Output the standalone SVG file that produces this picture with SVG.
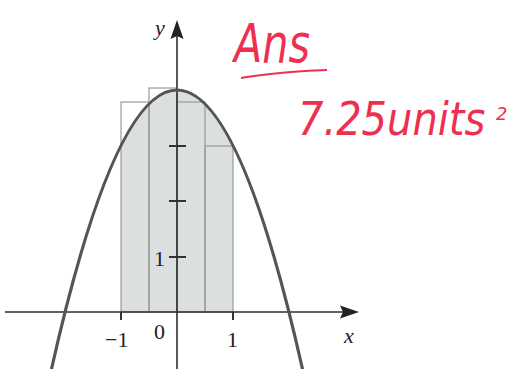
<svg xmlns="http://www.w3.org/2000/svg" width="514" height="369" viewBox="0 0 514 369">
<style>
.axis{stroke:#2e2e2e;stroke-width:1.6;fill:none}
.tick{stroke:#333;stroke-width:2;fill:none}
.rect{stroke:#9a9a9a;stroke-width:1.2;fill:none}
.lbl{font-family:"Liberation Serif",serif;font-size:22px;fill:#222}
.var{font-family:"Liberation Serif",serif;font-style:italic;font-size:22px;fill:#222}
.hand{font-family:"DejaVu Sans","Liberation Sans",sans-serif;fill:#ef2f4f;font-style:italic}
</style>
<rect width="514" height="369" fill="#fff"/>
<g id="shading">
<path d="M121,312 L121,145.5 Q177,34.5 233,145.5 L233,312 Z" fill="#dcdfe0"/>
</g>
<g id="rectangles">
<rect class="rect" x="121" y="102" width="28" height="210"/>
<rect class="rect" x="149" y="88" width="28" height="224"/>
<rect class="rect" x="177" y="102" width="28" height="210"/>
<rect class="rect" x="205" y="146" width="28" height="166"/>
</g>
<g id="connectors">
<line class="axis" x1="5" y1="312" x2="346" y2="312"/>
<polygon points="359,312 340,305.5 343,312 340,318.5" fill="#222"/>
<line class="axis" x1="177" y1="369" x2="177" y2="34"/>
<polygon points="177,20 170.5,39 177,36 183.5,39" fill="#222"/>
<line class="tick" x1="121" y1="312" x2="121" y2="320"/>
<line class="tick" x1="233" y1="312" x2="233" y2="320"/>
<line class="tick" x1="169" y1="146" x2="186" y2="146"/>
<line class="tick" x1="169" y1="201" x2="186" y2="201"/>
<line class="tick" x1="169" y1="257" x2="186" y2="257"/>
</g>
<g id="curve">
<path d="M51.5,369 Q177,-189 302.5,369" fill="none" stroke="#555" stroke-width="3.2"/>
</g>
<g id="labels">
<text class="var" x="155" y="35">y</text>
<text class="var" x="344" y="343">x</text>
<text class="lbl" x="105" y="347">−1</text>
<text class="lbl" x="154" y="339">0</text>
<text class="lbl" x="227" y="347">1</text>
<text class="lbl" x="154" y="266">1</text>
</g>
<g id="answer">
<text class="hand" transform="translate(298,135) scale(1,1.15)" x="0" y="0" font-size="40">7.25units</text>
<text class="hand" x="496" y="120" font-size="18">2</text>
<text class="hand" x="234" y="62" font-size="54" textLength="76" lengthAdjust="spacingAndGlyphs">Ans</text>
<path d="M241,78 Q285,71 327,70" fill="none" stroke="#ef2f4f" stroke-width="2"/>
</g>
</svg>
